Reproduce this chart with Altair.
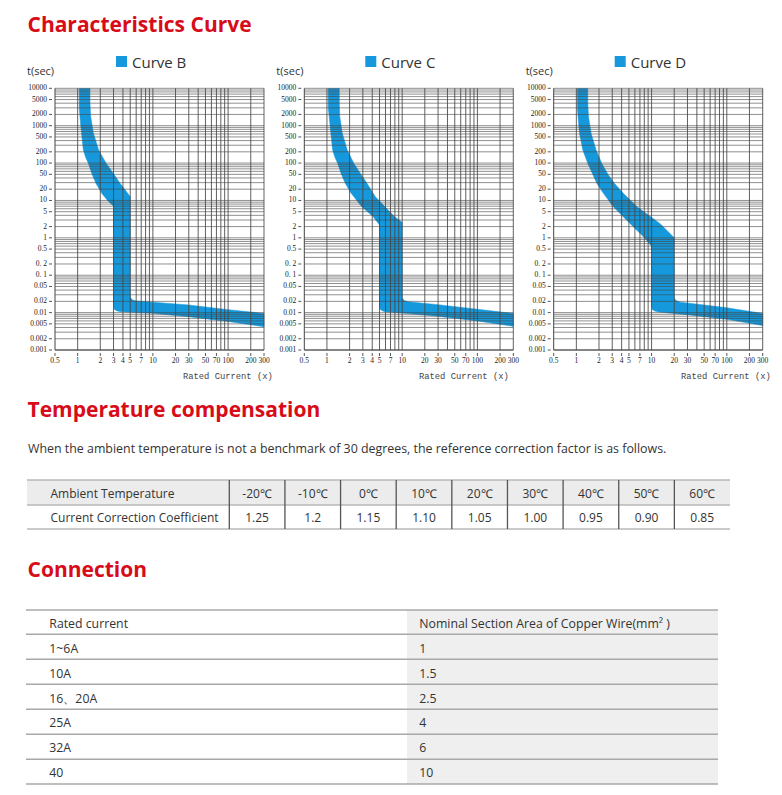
import altair as alt
import pandas as pd

# ---------------- data ----------------
curve_names = ["Curve B", "Curve C", "Curve D"]

# Curve B band outline (x = multiple of rated current, t = seconds)
b_left_x = [1.05, 1.05, 1.08, 1.12, 1.19, 1.28, 1.39, 1.54, 1.75, 2.09, 2.5, 3.0, 3.0, 3.08, 3.35, 3.8]
b_left_t = [10000, 3000, 1500, 700, 224, 140, 98, 53, 28.7, 15.5, 10, 7.0, 0.0145, 0.0122, 0.0111, 0.0105]
b_bottom_x = [10, 30, 100, 300]
b_bottom_t = [0.0096, 0.0078, 0.0058, 0.0042]
b_top_x = [300, 100, 30, 10, 6.0, 5.3, 5.0]
b_top_t = [0.0095, 0.012, 0.016, 0.019, 0.0205, 0.022, 0.026]
b_right_x = [5.0, 4.3, 3.66, 3.0, 2.4, 1.9, 1.62, 1.49, 1.46, 1.46]
b_right_t = [12.5, 19, 28.7, 52, 98, 224, 630, 1750, 4000, 10000]

# Curve C band outline
c_left_x = [1.04, 1.04, 1.08, 1.12, 1.19, 1.28, 1.39, 1.54, 1.75, 2.1, 2.9, 4.1, 5.0, 5.0, 5.12, 5.5, 6.3]
c_left_t = [10000, 3000, 1500, 700, 224, 140, 98, 53, 28.7, 15.5, 6.8, 3.7, 2.2, 0.0145, 0.0122, 0.0111, 0.0104]
c_bottom_x = [10, 30, 100, 300]
c_bottom_t = [0.0097, 0.008, 0.006, 0.0043]
c_top_x = [300, 100, 30, 12, 10.6, 10.0]
c_top_t = [0.0095, 0.0123, 0.0163, 0.0195, 0.021, 0.025]
c_right_x = [10.0, 8.0, 5.9, 4.4, 3.4, 2.8, 2.28, 1.86, 1.6, 1.48, 1.46, 1.46]
c_right_t = [2.6, 3.6, 6.8, 12.6, 28.7, 52, 98, 224, 630, 1750, 4000, 10000]

# Curve D band outline
d_left_x = [1.03, 1.03, 1.06, 1.1, 1.22, 1.42, 1.87, 2.29, 3.1, 5.2, 7.8, 10.0, 10.0, 10.25, 11.0, 12.5]
d_left_t = [10000, 3000, 1500, 630, 224, 98, 28.7, 15.5, 6.8, 2.4, 1.07, 0.6, 0.0145, 0.0122, 0.011, 0.0104]
d_bottom_x = [30, 100, 300]
d_bottom_t = [0.0088, 0.0066, 0.0045]
d_top_x = [300, 100, 50, 24, 21, 20.0]
d_top_t = [0.0095, 0.0135, 0.016, 0.019, 0.021, 0.025]
d_right_x = [20.0, 13, 6.4, 4.2, 3.2, 2.6, 2.18, 1.83, 1.57, 1.45, 1.42, 1.42]
d_right_t = [1.0, 2.4, 6.8, 15.5, 28.7, 52, 98, 224, 630, 1750, 4000, 10000]

y_tick_values = [10000, 5000, 2000, 1000, 500, 200, 100, 50, 20, 10, 5, 2, 1,
                 0.5, 0.2, 0.1, 0.05, 0.02, 0.01, 0.005, 0.002, 0.001]
y_tick_labels = ["10000", "5000", "2000", "1000", "500", "200", "100", "50", "20", "10", "5", "2", "1",
                 "0.5", "0. 2", "0. 1", "0.05", "0.02", "0.01", "0.005", "0.002", "0.001"]
x_tick_values = [0.5, 1, 2, 3, 4, 5, 7, 10, 20, 30, 50, 70, 100, 200, 300]
x_tick_labels = ["0.5", "1", "2", "3", "4", "5", "7", "10", "20", "30", "50", "70", "100", "200", "300"]
x_grid_values = [1, 2, 3, 4, 5, 6, 7, 8, 9, 10, 20, 30, 40, 50, 60, 70, 80, 90, 100, 200, 300]
y_grid_values = [m * 10.0 ** k for k in range(-3, 4) for m in range(1, 10)] + [10000]

temp_row_header = "Ambient Temperature"
coef_row_header = "Current Correction Coefficient"
temperatures = ["-20℃", "-10℃", "0℃", "10℃", "20℃", "30℃", "40℃", "50℃", "60℃"]
coefficients = ["1.25", "1.2", "1.15", "1.10", "1.05", "1.00", "0.95", "0.90", "0.85"]

conn_headers = ["Rated current", "Nominal Section Area of Copper Wire(mm² )"]
rated_currents = ["1~6A", "10A", "16、20A", "25A", "32A", "40"]
wire_areas = ["1", "1.5", "2.5", "4", "6", "10"]

headings = ["Characteristics Curve", "Temperature compensation", "Connection"]
sentence = ("When the ambient temperature is not a benchmark of 30 degrees, "
            "the reference correction factor is as follows.")

# ---------------- layout / style ----------------
M = 8


def px(v):
    return v - M


BLUE = "#1598dc"
RED = "#d70c18"
TXT = "#333333"
GRID = "#454545"
SANS = "Open Sans"
SERIF = "Liberation Serif"

PANEL_LEFT = [55.0, 304.3, 553.7]
PANEL_W = 209.0
PANEL_TOP = 88.3
PANEL_BOTTOM = 350.0
XLABEL_LEFT = [183, 419, 681]

one = pd.DataFrame({"k": [0]})


def polygon(lx, lt, bx, bt, tx, tt, rx, rt):
    xs = lx + bx + tx + rx
    ts = lt + bt + tt + rt
    return pd.DataFrame({"x": xs, "t": ts, "o": list(range(len(xs)))})


polys = [
    polygon(b_left_x, b_left_t, b_bottom_x, b_bottom_t, b_top_x, b_top_t, b_right_x, b_right_t),
    polygon(c_left_x, c_left_t, c_bottom_x, c_bottom_t, c_top_x, c_top_t, c_right_x, c_right_t),
    polygon(d_left_x, d_left_t, d_bottom_x, d_bottom_t, d_top_x, d_top_t, d_right_x, d_right_t),
]

ylab_df = pd.DataFrame({"v": y_tick_values, "lab": y_tick_labels})
xlab_df = pd.DataFrame({"v": x_tick_values, "lab": x_tick_labels})
ygrid_df = pd.DataFrame({"g": y_grid_values})
xgrid_df = pd.DataFrame({"g": x_grid_values})


def panel(i):
    L = px(PANEL_LEFT[i])
    R = L + PANEL_W
    T = px(PANEL_TOP)
    B = px(PANEL_BOTTOM)
    xsc = alt.Scale(type="log", domain=[0.5, 300], range=[L, R], nice=False)
    ysc = alt.Scale(type="log", domain=[0.001, 10000], range=[B, T], nice=False)

    def X(f):
        return alt.X(f, scale=xsc, axis=None)

    def Y(f):
        return alt.Y(f, scale=ysc, axis=None)

    band = alt.Chart(polys[i]).mark_line(
        filled=True, fill=BLUE, stroke=BLUE, strokeWidth=0.5
    ).encode(x=X("x:Q"), y=Y("t:Q"), order="o:Q")

    hgrid = alt.Chart(ygrid_df).mark_rule(color=GRID, strokeWidth=0.8, opacity=0.75).encode(
        y=Y("g:Q"), x=alt.value(L), x2=alt.value(R))
    vgrid = alt.Chart(xgrid_df).mark_rule(color=GRID, strokeWidth=1, opacity=0.85).encode(
        x=X("g:Q"), y=alt.value(T), y2=alt.value(B))
    left_line = alt.Chart(one).mark_rule(color="#444444", strokeWidth=1).encode(
        x=alt.value(L), y=alt.value(T), y2=alt.value(B))
    bottom_line = alt.Chart(one).mark_rule(color="#444444", strokeWidth=1).encode(
        y=alt.value(B), x=alt.value(L), x2=alt.value(R))

    ylabels = alt.Chart(ylab_df).mark_text(
        align="right", baseline="middle", font=SERIF, fontSize=7.5, color="#222222"
    ).encode(y=Y("v:Q"), x=alt.value(L - 8), text="lab:N")
    yticks = alt.Chart(ylab_df).mark_rule(color="#444444", strokeWidth=0.9).encode(
        y=Y("v:Q"), x=alt.value(L - 6), x2=alt.value(L - 3))
    xlabels = alt.Chart(xlab_df).mark_text(
        align="center", baseline="middle", font=SERIF, fontSize=7.5, color="#222222"
    ).encode(x=X("v:Q"), y=alt.value(B + 10.5), text="lab:N")
    xticks = alt.Chart(xlab_df).mark_rule(color="#444444", strokeWidth=0.9).encode(
        x=X("v:Q"), y=alt.value(B + 3), y2=alt.value(B + 6))

    name_df = pd.DataFrame({"name": [curve_names[i]]})
    swatch = alt.Chart(name_df).mark_rect(color=BLUE).encode(
        x=alt.value(L + 61), x2=alt.value(L + 72),
        y=alt.value(px(56)), y2=alt.value(px(67)))
    name = alt.Chart(name_df).mark_text(
        align="left", baseline="alphabetic", font=SANS, fontSize=15, color=TXT
    ).encode(x=alt.value(L + 77), y=alt.value(px(67.5)), text="name:N")
    tsec = alt.Chart(one).mark_text(
        align="left", baseline="alphabetic", font=SANS, fontSize=11, color=TXT, text="t(sec)"
    ).encode(x=alt.value(L - 28), y=alt.value(px(75)))
    rated = alt.Chart(one).mark_text(
        align="left", baseline="alphabetic", font="Liberation Mono", fontSize=8.8,
        color="#444444", text="Rated Current (x)"
    ).encode(x=alt.value(px(XLABEL_LEFT[i])), y=alt.value(px(378.5)))

    return alt.layer(band, hgrid, vgrid, left_line, bottom_line, ylabels, yticks,
                     xlabels, xticks, swatch, name, tsec, rated)


# ---------------- headings & sentence ----------------
head_df = pd.DataFrame({"text": headings, "hx": [px(27.5)] * 3, "hy": [px(31.7), px(416.7), px(577)]})
heads = alt.Chart(head_df).mark_text(
    align="left", baseline="alphabetic", font=SANS, fontSize=21, fontWeight="bold", color=RED
).encode(x=alt.X("hx:Q", scale=None), y=alt.Y("hy:Q", scale=None), text="text:N")
sent = alt.Chart(one).mark_text(
    align="left", baseline="alphabetic", font=SANS, fontSize=12.4, color=TXT, text=sentence
).encode(x=alt.value(px(28)), y=alt.value(px(452.5)))

# ---------------- temperature table ----------------
TT_L, TT_R, TT_C0 = 27, 730, 229.3
TT_LINES = [480, 505, 529]
tsc = alt.Scale(domain=temperatures, range=[px(TT_C0), px(TT_R)], paddingInner=0, paddingOuter=0)
temp_df = pd.DataFrame({"temp": temperatures, "coef": coefficients})

t_bg = alt.Chart(one).mark_rect(color="#ececec").encode(
    x=alt.value(px(TT_L)), x2=alt.value(px(TT_R)), y=alt.value(px(480)), y2=alt.value(px(505)))
t_hl = alt.Chart(pd.DataFrame({"yy": [px(v) for v in TT_LINES]})).mark_rule(
    color="#b8b8b8", strokeWidth=1.3).encode(
    y=alt.Y("yy:Q", scale=None), x=alt.value(px(TT_L)), x2=alt.value(px(TT_R)))
t_sep = alt.Chart(temp_df).mark_rule(color="#555555", strokeWidth=1.3).encode(
    x=alt.X("temp:N", scale=tsc, axis=None, bandPosition=0),
    y=alt.value(px(480)), y2=alt.value(px(529)))
t_head = alt.Chart(temp_df).mark_text(
    align="center", baseline="alphabetic", font=SANS, fontSize=12, color=TXT
).encode(x=alt.X("temp:N", scale=tsc, axis=None, bandPosition=0.5), y=alt.value(px(498)), text="temp:N")
t_coef = alt.Chart(temp_df).mark_text(
    align="center", baseline="alphabetic", font=SANS, fontSize=12, color=TXT
).encode(x=alt.X("temp:N", scale=tsc, axis=None, bandPosition=0.5), y=alt.value(px(521.5)), text="coef:N")
t_rowh = alt.Chart(pd.DataFrame({"h": [temp_row_header, coef_row_header], "hy": [px(498), px(521.5)]})).mark_text(
    align="left", baseline="alphabetic", font=SANS, fontSize=12, color=TXT
).encode(x=alt.value(px(50.5)), y=alt.Y("hy:Q", scale=None), text="h:N")
temp_table = alt.layer(t_bg, t_hl, t_sep, t_head, t_coef, t_rowh)

# ---------------- connection table ----------------
CT_L, CT_R, CT_SHADE = 26, 718, 407
CT_LINES = [610, 634.3, 659.3, 684.3, 709.3, 734.3, 759.3, 784]
rows = list(range(len(rated_currents) + 1))
csc = alt.Scale(domain=rows, range=[px(610), px(784)], paddingInner=0, paddingOuter=0)
conn_df = pd.DataFrame({"r": rows, "cur": [conn_headers[0]] + rated_currents,
                        "area": [conn_headers[1]] + wire_areas})
c_bg = alt.Chart(one).mark_rect(color="#efefef").encode(
    x=alt.value(px(CT_SHADE)), x2=alt.value(px(CT_R)), y=alt.value(px(610)), y2=alt.value(px(784)))
c_hl = alt.Chart(pd.DataFrame({"yy": [px(v) for v in CT_LINES]})).mark_rule(
    color="#a8a8a8", strokeWidth=1.5).encode(
    y=alt.Y("yy:Q", scale=None), x=alt.value(px(CT_L)), x2=alt.value(px(CT_R)))
c_cur = alt.Chart(conn_df).mark_text(
    align="left", baseline="middle", dy=1.5, font=SANS, fontSize=12.3, color=TXT
).encode(y=alt.Y("r:O", scale=csc, axis=None, bandPosition=0.5), x=alt.value(px(49.3)), text="cur:N")
c_area = alt.Chart(conn_df).mark_text(
    align="left", baseline="middle", dy=1.5, font=SANS, fontSize=12.3, color=TXT
).encode(y=alt.Y("r:O", scale=csc, axis=None, bandPosition=0.5), x=alt.value(px(419.3)), text="area:N")
conn_table = alt.layer(c_bg, c_hl, c_cur, c_area)

chart = alt.layer(
    panel(0), panel(1), panel(2), heads, sent, temp_table, conn_table
).resolve_scale(
    x="independent", y="independent"
).properties(
    width=766, height=778, padding=0, autosize="none", background="white"
).configure_view(strokeWidth=0)

chart.save("out.html", embed_options={"renderer": "svg", "actions": False})
